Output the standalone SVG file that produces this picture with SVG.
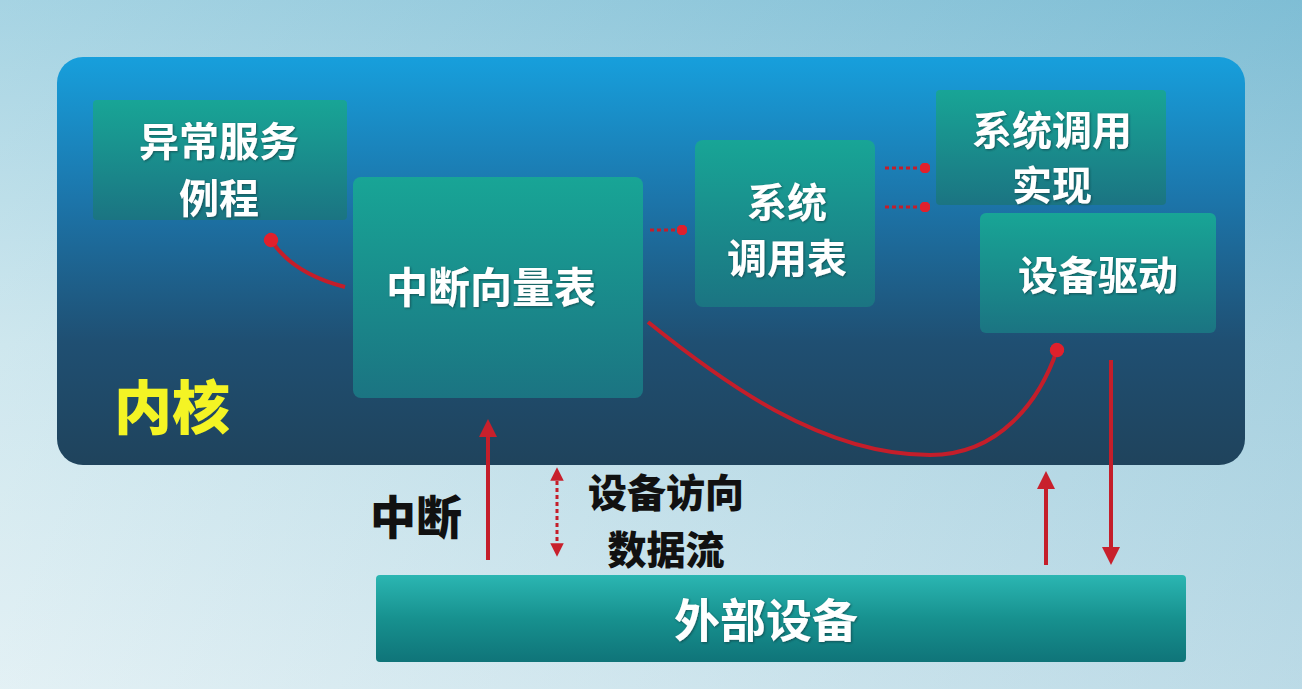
<svg xmlns="http://www.w3.org/2000/svg" width="1302" height="689" viewBox="0 0 1302 689">
<defs>
<linearGradient id="bg" x1="0" y1="0" x2="0" y2="1">
<stop offset="0" stop-color="#90c9dc"/>
<stop offset="0.5" stop-color="#c2e1ea"/>
<stop offset="1" stop-color="#dcedf2"/>
</linearGradient>
<linearGradient id="bgx" x1="0" y1="0" x2="1" y2="0">
<stop offset="0" stop-color="#ffffff" stop-opacity="0.2"/>
<stop offset="1" stop-color="#3a90b8" stop-opacity="0.2"/>
</linearGradient>
<linearGradient id="kern" x1="0" y1="0" x2="0" y2="1">
<stop offset="0" stop-color="#179fdc"/>
<stop offset="0.35" stop-color="#1c75aa"/>
<stop offset="0.7" stop-color="#1f4f72"/>
<stop offset="1" stop-color="#1f435c"/>
</linearGradient>
<linearGradient id="node" x1="0" y1="0" x2="0" y2="1">
<stop offset="0" stop-color="#18a596"/>
<stop offset="1" stop-color="#1b7482"/>
</linearGradient>
<linearGradient id="dev" x1="0" y1="0" x2="0" y2="1">
<stop offset="0" stop-color="#2bb6b2"/>
<stop offset="0.5" stop-color="#17918f"/>
<stop offset="1" stop-color="#0f7479"/>
</linearGradient>
<marker id="ah" viewBox="0 0 10 10" refX="5" refY="5" markerWidth="4.5" markerHeight="4.5" orient="auto-start-reverse">
<path d="M0,0 L10,5 L0,10 z" fill="#c8202c"/>
</marker>
<marker id="dot" viewBox="0 0 10 10" refX="5" refY="5" markerWidth="3.6" markerHeight="3.6" orient="auto">
<circle cx="5" cy="5" r="5" fill="#e0202c"/>
</marker>
<filter id="sh" x="-10%" y="-10%" width="120%" height="120%">
<feDropShadow dx="1" dy="1" stdDeviation="1" flood-color="#0a2a30" flood-opacity="0.6"/>
</filter>
</defs>
<style>
.nt{font-family:"Noto Sans CJK SC","Noto Sans CJK JP",sans-serif;font-weight:bold;fill:#ffffff;text-anchor:middle;filter:url(#sh)}
.lb{font-family:"Noto Sans CJK SC","Noto Sans CJK JP",sans-serif;font-weight:900;fill:#111111;text-anchor:middle}
.cn{fill:none;stroke:#c41e2a;stroke-width:4}
.cd{fill:none;stroke:#c41e2a;stroke-width:3;stroke-dasharray:4 3}
</style>
<rect x="0" y="0" width="1302" height="689" fill="url(#bg)"/>
<rect x="0" y="0" width="1302" height="689" fill="url(#bgx)"/>
<g id="kernel">
<rect x="57" y="57" width="1188" height="408" rx="26" fill="url(#kern)"/>
<text x="172" y="429" font-size="58" font-family="Noto Sans CJK SC, sans-serif" font-weight="900" fill="#f4f424" text-anchor="middle">内核</text>
</g>
<g id="exception">
<rect x="93" y="100" width="254" height="120" rx="4" fill="url(#node)"/>
<text class="nt" x="219" y="156" font-size="40">异常服务</text>
<text class="nt" x="219" y="213" font-size="40">例程</text>
</g>
<g id="ivt">
<rect x="353" y="177" width="290" height="221" rx="8" fill="url(#node)"/>
<text class="nt" x="491" y="303" font-size="42">中断向量表</text>
</g>
<g id="syscall-table">
<rect x="695" y="140" width="180" height="167" rx="8" fill="url(#node)"/>
<text class="nt" x="787" y="217" font-size="40">系统</text>
<text class="nt" x="787" y="273" font-size="40">调用表</text>
</g>
<g id="syscall-impl">
<rect x="936" y="90" width="230" height="115" rx="4" fill="url(#node)"/>
<text class="nt" x="1052" y="145" font-size="40">系统调用</text>
<text class="nt" x="1052" y="200" font-size="40">实现</text>
</g>
<g id="driver">
<rect x="980" y="213" width="236" height="120" rx="6" fill="url(#node)"/>
<text class="nt" x="1098" y="290" font-size="40">设备驱动</text>
</g>
<g id="device">
<rect x="376" y="575" width="810" height="87" rx="4" fill="url(#dev)"/>
<text class="nt" x="766" y="637" font-size="46">外部设备</text>
</g>
<g id="connectors">
<path class="cn" d="M345,287 C310,278 285,262 271,240" marker-end="url(#dot)"/>
<path class="cd" d="M650,230 L682,230" marker-end="url(#dot)"/>
<path class="cd" d="M885,168 L925,168" marker-end="url(#dot)"/>
<path class="cd" d="M885,207 L925,207" marker-end="url(#dot)"/>
<path class="cn" d="M648,322 C720,380 820,455 930,455 C1000,455 1040,400 1057,350" marker-end="url(#dot)"/>
<path class="cn" d="M488,560 L488,428" marker-end="url(#ah)"/>
<path class="cd" d="M557,474 L557,550" marker-start="url(#ah)" marker-end="url(#ah)"/>
<path class="cn" d="M1046,565 L1046,480" marker-end="url(#ah)"/>
<path class="cn" d="M1111,360 L1111,556" marker-end="url(#ah)"/>
</g>
<g id="labels">
<text class="lb" x="416" y="534" font-size="46">中断</text>
<text class="lb" x="666" y="507" font-size="39">设备访向</text>
<text class="lb" x="666" y="564" font-size="39">数据流</text>
</g>
</svg>
